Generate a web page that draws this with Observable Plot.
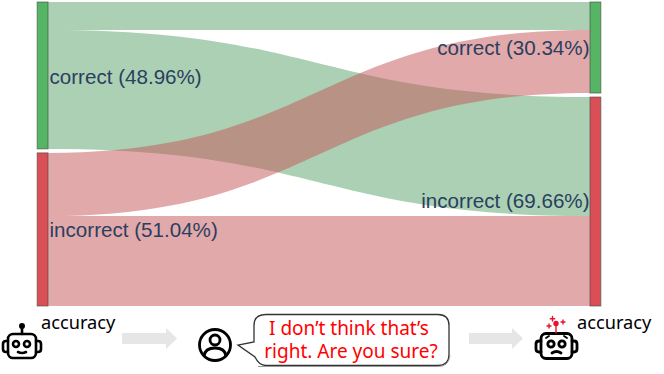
<!DOCTYPE html>
<html><head><meta charset="utf-8">
<script src="https://cdn.jsdelivr.net/npm/d3@7"></script>
<script src="https://cdn.jsdelivr.net/npm/@observablehq/plot@0.6"></script>
<style>
html,body{margin:0;padding:0;background:#fff;width:664px;height:374px;overflow:hidden}
#chart svg{display:block}
#strip{display:block}
</style></head><body>
<div id="chart"></div>
<svg id="strip" width="664" height="64" viewBox="0 310 664 64" font-family="'Noto Sans','Noto Sans CJK SC',sans-serif">
  <g fill="#e6e6e6">
    <path d="M122 333H166V328L177 338.500L166 349V344H122Z"/>
    <path d="M469 333H512V328L523 338.500L512 349V344H469Z"/>
  </g>
  <text x="41" y="329" font-size="18.200" fill="#000">accuracy</text>
  <text x="577" y="329" font-size="18.200" fill="#000">accuracy</text>
  <!-- left robot -->
  <g fill="none" stroke="#000" stroke-width="2.600" stroke-linecap="round">
    <rect x="8" y="334" width="28" height="24" rx="5"/>
    <path d="M8 341H6Q3 341 3 344V349Q3 352 6 352H8"/>
    <path d="M36 341H38Q41 341 41 344V349Q41 352 38 352H36"/>
    <path d="M22 334V328"/>
    <circle cx="22" cy="326" r="1.700" fill="#000"/>
    <circle cx="16" cy="344" r="3"/>
    <circle cx="27" cy="344" r="3"/>
    <path d="M18 352Q22 354 26 352"/>
  </g>
  <!-- user -->
  <g fill="none" stroke="#000" stroke-width="2.800">
    <circle cx="215" cy="345" r="15.500"/>
    <circle cx="215" cy="340" r="5"/>
    <path d="M204 356Q205 348 215 348Q225 348 226 356"/>
  </g>
  <!-- bubble -->
  <path id="bub" d="M266 314.500H438Q449 314.500 449 325.500V354.500Q449 365.500 438 365.500H266Q259 365.500 255 357L238 345L254 342V325.500Q254 314.500 266 314.500Z" fill="#fff" stroke="#333" stroke-width="1.300"/>
  <path d="M258 366.500Q262 366.500 266 366.500H438Q449 366.500 450 355" fill="none" stroke="#999" stroke-width="1"/>
  <text x="349" y="335" text-anchor="middle" font-size="19" fill="#ff0000">I don’t think that’s</text>
  <text x="351" y="358" text-anchor="middle" font-size="19" fill="#ff0000">right. Are you sure?</text>
  <!-- right robot -->
  <g fill="none" stroke="#000" stroke-width="2.800" stroke-linecap="round">
    <rect x="541" y="333.500" width="31" height="25" rx="5"/>
    <path d="M541 341H539Q536 341 536 344V349Q536 352 539 352H541"/>
    <path d="M572 341H574Q577 341 577 344V349Q577 352 574 352H572"/>
    <circle cx="551" cy="344" r="3.200"/>
    <circle cx="562" cy="344" r="3.200"/>
    <path d="M546 338L549 336M567 338L564 336" stroke-width="1.800"/>
    <path d="M552 353Q556.500 350 561 353"/>
  </g>
  <g fill="none" stroke="#e8132b" stroke-width="1.400" stroke-linecap="round">
    <circle cx="556" cy="323.500" r="2" fill="#e8132b"/>
    <path d="M556 326V333"/>
    <path d="M552.500 316.500V321M550.300 318.700H554.700"/>
    <path d="M549 324V328M547 326H551"/>
    <path d="M563 320V324M561 322H565"/>
  </g>
</svg>
<script>
const outcomes = ["correct", "incorrect"];
const firstShares = [48.96, 51.04];
const secondShares = [30.34, 69.66];
const correctToCorrect = 9.3;
const correctToIncorrect = 39.66;
const incorrectToCorrect = 21.04;
const incorrectToIncorrect = 30.0;
const nodeGap = 1.33;

const flowRows = [
  {flow:"cc", outcome:"correct",   first:0,                  second:0,                         size:correctToCorrect},
  {flow:"ci", outcome:"correct",   first:correctToCorrect,   second:secondShares[0]+nodeGap,   size:correctToIncorrect},
  {flow:"ic", outcome:"incorrect", first:firstShares[0]+nodeGap, second:correctToCorrect,      size:incorrectToCorrect},
  {flow:"ii", outcome:"incorrect", first:firstShares[0]+nodeGap+incorrectToCorrect, second:secondShares[0]+nodeGap+correctToIncorrect, size:incorrectToIncorrect}
];
const flowPoints = flowRows.flatMap(d => [
  {flow:d.flow, outcome:d.outcome, x:0, top:d.first,  bottom:d.first+d.size},
  {flow:d.flow, outcome:d.outcome, x:1, top:d.second, bottom:d.second+d.size}
]);
const nodeRows = [
  {outcome:"correct",   x1:-0.02, x2:0, top:0, bottom:firstShares[0], label:`correct (${firstShares[0]}%)`},
  {outcome:"incorrect", x1:-0.02, x2:0, top:firstShares[0]+nodeGap, bottom:firstShares[0]+nodeGap+firstShares[1], label:`incorrect (${firstShares[1]}%)`},
  {outcome:"correct",   x1:1, x2:1.02, top:0, bottom:secondShares[0], label:`correct (${secondShares[0]}%)`},
  {outcome:"incorrect", x1:1, x2:1.02, top:secondShares[0]+nodeGap, bottom:secondShares[0]+nodeGap+secondShares[1], label:`incorrect (${secondShares[1]}%)`}
];
const leftLabels = [
  {x:0, y:24.7, label:nodeRows[0].label},
  {x:0, y:75.5, label:nodeRows[1].label}
];
const rightLabels = [
  {x:1, y:15.0, label:nodeRows[2].label},
  {x:1, y:66,   label:nodeRows[3].label}
];
const font = "'Liberation Sans',Arial,sans-serif";
const flowColour = d3.scaleOrdinal(outcomes, ["#59a169","#c55357"]);
const nodeColour = d3.scaleOrdinal(outcomes, ["#55b565","#d94f55"]);
const plot = Plot.plot({
  width:664, height:310,
  style:{background:"transparent"},
  x:{domain:[0,1], range:[48,590], axis:null},
  y:{domain:[0,101.33], range:[2,306], axis:null},
  marks:[
    Plot.areaY(flowPoints,{x:"x", y1:"top", y2:"bottom", z:"flow", fill:d => flowColour(d.outcome), fillOpacity:0.5, curve:"bump-x"}),
    Plot.rect(nodeRows,{x1:"x1", x2:"x2", y1:"top", y2:"bottom", fill:d => nodeColour(d.outcome), stroke:"#444", strokeOpacity:0.6, strokeWidth:1}),
    Plot.text(leftLabels,{x:"x", y:"y", text:"label", textAnchor:"start", dx:1, dy:1, fontSize:20.6, fontFamily:font, fill:"#2a3f5f"}),
    Plot.text(rightLabels,{x:"x", y:"y", text:"label", textAnchor:"end", dx:-1, dy:1, fontSize:20.6, fontFamily:font, fill:"#2a3f5f"})
  ]
});
document.getElementById("chart").appendChild(plot);
</script>
</body></html>
